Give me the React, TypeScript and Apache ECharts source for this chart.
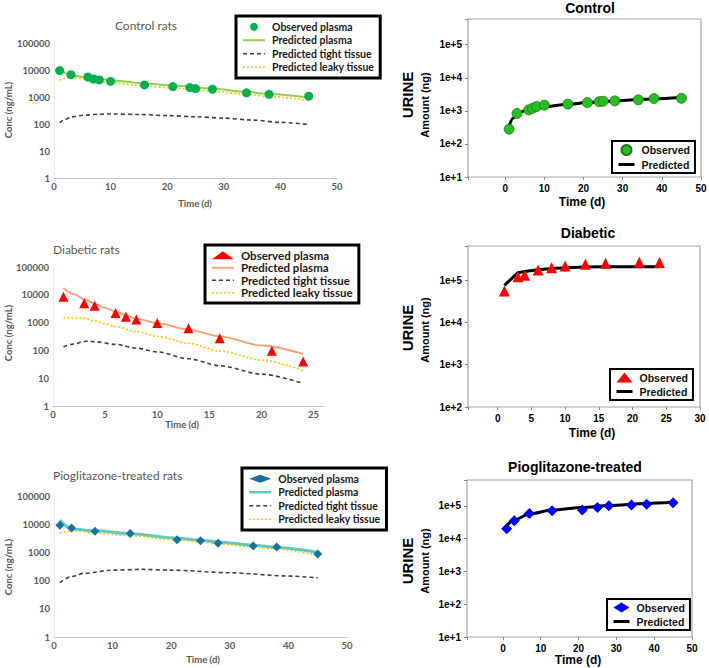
import React, { useEffect, useRef } from "react";
import * as echarts from "echarts";

// ---------- data ----------
// Control rats – plasma (ng/mL)
const ctrlObsT = [1, 3, 6, 7, 8, 10, 16, 21, 24, 25, 28, 34, 38, 45];
const ctrlObsPlasma = [9500, 6700, 5500, 4650, 4300, 3800, 2800, 2430, 2230, 2050, 1940, 1430, 1260, 1070];
const ctrlPredT = [1, 3, 6, 10, 16, 21, 28, 34, 38, 45];
const ctrlPredPlasma = [12000, 6200, 5300, 4200, 3150, 2650, 2050, 1550, 1300, 950];
const ctrlPredLeaky = [4200, 5500, 4500, 3400, 2600, 2150, 1650, 1250, 1050, 740];
const ctrlTightT = [1, 2, 3, 5, 8, 10, 15, 20, 25, 30, 35, 40, 45];
const ctrlPredTight = [110, 150, 180, 210, 230, 235, 225, 205, 185, 165, 140, 115, 95];

// Diabetic rats – plasma
const diabObsT = [1, 3, 4, 6, 7, 8, 10, 13, 16, 21, 24];
const diabObsPlasma = [8500, 5000, 4000, 2200, 1630, 1290, 960, 630, 275, 97, 40];
const diabPredT = [1, 2, 3, 4, 5, 6, 7, 8, 10, 13, 16, 20, 24];
const diabPredPlasma = [17500, 10500, 7000, 4800, 3400, 2500, 1850, 1400, 950, 560, 320, 150, 75];
const diabLeakyT = [1, 2, 3, 4, 5, 6, 8, 10, 13, 16, 20, 24];
const diabPredLeaky = [1500, 1500, 1450, 1150, 900, 720, 480, 320, 180, 95, 45, 19];
const diabTightT = [1, 2, 3, 3.5, 4, 6, 8, 10, 13, 16, 20, 24];
const diabPredTight = [135, 170, 210, 215, 205, 165, 120, 88, 50, 28, 14, 6.5];

// Pioglitazone-treated rats – plasma
const pioObsT = [1, 3, 7, 13, 21, 25, 28, 34, 38, 45];
const pioObsPlasma = [9200, 7400, 5650, 4700, 2800, 2600, 2100, 1700, 1540, 870];
const pioPredT = [1, 3, 7, 13, 21, 25, 28, 34, 38, 45];
const pioPredPlasma = [14000, 6800, 5800, 4600, 3200, 2700, 2350, 1800, 1500, 1000];
const pioPredLeaky = [4700, 5900, 4900, 3900, 2800, 2400, 2000, 1550, 1300, 780];
const pioTightT = [1, 3, 5, 10, 15, 20, 30, 40, 45];
const pioPredTight = [85, 140, 180, 235, 250, 235, 190, 145, 125];

// Urine amounts (ng)
const ctrlUrineObs = [280, 830, 1070, 1200, 1350, 1490, 1600, 1790, 1900, 1950, 2000, 2150, 2360, 2400];
const ctrlUrinePredT = [1, 2, 3, 5, 8, 10, 16, 21, 28, 34, 38, 45];
const ctrlUrinePred = [350, 600, 800, 1000, 1200, 1320, 1580, 1780, 2000, 2200, 2330, 2600];

const diabUrineT = [1, 3, 4, 6, 8, 10, 13, 16, 21, 24];
const diabUrineObs = [55000, 120000, 131000, 173000, 196000, 215000, 236000, 250000, 265000, 260000];
const diabUrinePredT = [1, 3, 4, 6, 8, 10, 13, 16, 20, 24];
const diabUrinePred = [75000, 150000, 160000, 175000, 188000, 196000, 203000, 206000, 208000, 208000];

const pioUrineObs = [20000, 35000, 58000, 70000, 74000, 89000, 100000, 105000, 112000, 124000];
const pioUrinePredT = [1, 3, 7, 13, 21, 28, 38, 45];
const pioUrinePred = [25000, 37000, 56000, 74000, 89000, 102000, 118000, 127000];

// labels
const leftTitles = ["Control rats", "Diabetic rats", "Pioglitazone-treated rats"];
const rightTitles = ["Control", "Diabetic", "Pioglitazone-treated"];
const plasmaLegend = ["Observed plasma", "Predicted plasma", "Predicted tight tissue", "Predicted leaky tissue"];
const urineLegend = ["Observed", "Predicted"];

// ---------- helpers ----------
const FL = 'Lato, "Open Sans", sans-serif';
const FR = '"Liberation Sans", Arial, sans-serif';
const pairs = (xs: number[], ys: number[]) => xs.map((x, i) => [x, ys[i]]);

const grids = [
  { left: 54, top: 43, width: 283, height: 135 },
  { left: 53, top: 267, width: 271, height: 139 },
  { left: 54, top: 496, width: 293, height: 141 },
  { left: 468, top: 19, width: 233, height: 158 },
  { left: 468, top: 246, width: 232, height: 161 },
  { left: 467, top: 480, width: 225, height: 157 },
];

function txt(text: string, x: number, y: number, size: number, weight: string, color: string, family: string, align = "center", rotation = 0) {
  return {
    type: "text",
    x,
    y,
    rotation,
    silent: true,
    style: { text, fill: color, font: `${weight} ${size}px ${family}`, align, verticalAlign: "middle" },
  };
}

const hideSym = { color: "rgba(0,0,0,0)", borderColor: "rgba(0,0,0,0)", borderWidth: 0, opacity: 0 };

export default function App() {
  const ref = useRef<HTMLDivElement>(null);
  useEffect(() => {
    if (!ref.current) return;
    const chart = echarts.init(ref.current, null, { renderer: "svg" });

    const leftX = (i: number, max: number, interval: number) => ({
      type: "value",
      gridIndex: i,
      min: 0,
      max,
      interval,
      splitLine: { show: false },
      axisTick: { show: false },
      axisLine: { show: true, onZero: false, lineStyle: { color: "#c8c8c8", width: 1 } },
      axisLabel: {
        margin: 3,
        color: "#595959",
        fontFamily: FL,
        fontWeight: "bold",
        fontSize: 9.5,
        formatter: (v: number) => (v % interval === 0 ? String(v) : ""),
      },
    });
    const leftY = (i: number) => ({
      type: "log",
      logBase: 10,
      gridIndex: i,
      min: 1,
      max: 100000,
      splitLine: { show: false },
      axisTick: { show: false },
      axisLine: { show: true, onZero: false, lineStyle: { color: "#ececec" } },
      axisLabel: {
        margin: 4,
        color: "#595959",
        fontFamily: FL,
        fontWeight: "bold",
        fontSize: 9.5,
        formatter: (v: number) => String(Math.round(v)),
      },
    });
    const rightX = (i: number, min: number, max: number, step: number, split: number) => ({
      type: "value",
      gridIndex: i,
      min,
      max,
      splitNumber: split,
      minInterval: step,
      maxInterval: step,
      splitLine: { show: false },
      axisLine: { show: false, onZero: false },
      axisTick: { show: true, length: 3, lineStyle: { color: "#888" } },
      axisLabel: {
        margin: 6,
        color: "#000",
        fontFamily: FR,
        fontWeight: "bold",
        fontSize: 10,
        formatter: (v: number) => (v < 0 || v % step !== 0 ? "" : String(Math.abs(v))),
      },
    });
    const rightY = (i: number, min: number, max: number) => ({
      type: "log",
      logBase: 10,
      gridIndex: i,
      min,
      max,
      splitLine: { show: false },
      axisLine: { show: false, onZero: false },
      axisTick: { show: true, length: 3, lineStyle: { color: "#888" } },
      axisLabel: {
        margin: 6,
        color: "#000",
        fontFamily: FR,
        fontWeight: "bold",
        fontSize: 10,
        formatter: (v: number) => {
          const l = Math.log10(v);
          return Math.abs(l - Math.round(l)) < 0.01 ? `1e+${Math.round(l)}` : "";
        },
      },
    });

    const line = (name: string, idx: number, data: number[][], color: string, width: number, type: any, z = 2, smooth: any = 0.3) => ({
      name,
      type: "line",
      xAxisIndex: idx,
      yAxisIndex: idx,
      data,
      symbol: "none",
      smooth,
      smoothMonotone: "x",
      z,
      lineStyle: { color, width, type },
      itemStyle: { color },
    });
    const scat = (name: string, idx: number, data: number[][], symbol: string, size: number, color: string, border?: string) => ({
      name,
      type: "scatter",
      xAxisIndex: idx,
      yAxisIndex: idx,
      data,
      symbol,
      symbolSize: size,
      z: 5,
      itemStyle: { color, borderColor: border || color, borderWidth: border ? 0.8 : 0, opacity: 1 },
    });

    const names: Record<string, string> = {};
    const leftLegend = (p: string, left: number, top: number, fontSize: number, gap: number, pad: number[], widths: number[]) => {
      const ids = ["obs", "pred", "tight", "leaky"].map((k) => `${p}_${k}`);
      ids.forEach((id, i) => (names[id] = plasmaLegend[i]));
      return {
        orient: "vertical",
        left,
        top,
        itemWidth: 22,
        itemHeight: 8,
        itemGap: gap,
        padding: pad,
        borderColor: "#000",
        borderWidth: 3,
        borderRadius: 0,
        backgroundColor: "#fff",
        selectedMode: false,
        textStyle: { fontFamily: FL, fontWeight: "bold", fontSize, lineHeight: fontSize + 1, color: "#1a1a1a", padding: [0, 0, 0, 2] },
        formatter: (n: string) => names[n] || n,
        data: ids.map((id, i) => (i === 0 ? { name: id } : { name: id, itemStyle: hideSym, lineStyle: { width: widths[i - 1] } })),
      };
    };
    const rightLegend = (p: string, left: number, top: number) => {
      const ids = [`${p}_uobs`, `${p}_upred`];
      ids.forEach((id, i) => (names[id] = urineLegend[i]));
      return {
        orient: "vertical",
        left,
        top,
        itemWidth: 16,
        itemHeight: 10,
        itemGap: 3,
        padding: [3, 5, 3, 5],
        borderColor: "#000",
        borderWidth: 2,
        borderRadius: 0,
        backgroundColor: "#fff",
        selectedMode: false,
        textStyle: { fontFamily: FR, fontWeight: "bold", fontSize: 10.5, color: "#111", padding: [0, 0, 0, 2] },
        formatter: (n: string) => names[n] || n,
        data: [{ name: ids[0] }, { name: ids[1], itemStyle: hideSym, lineStyle: { width: 3 } }],
      };
    };

    const YEL = "#ffc000";
    const DK = "#404040";

    const option: any = {
      animation: false,
      backgroundColor: "#fff",
      grid: grids.map((g, i) => ({
        ...g,
        outerBoundsMode: "none",
        containLabel: false,
        show: i >= 3,
        borderColor: "#a6a6a6",
        borderWidth: 1.2,
        backgroundColor: "transparent",
      })),
      xAxis: [
        leftX(0, 50, 10),
        leftX(1, 26, 5),
        leftX(2, 50, 10),
        rightX(3, -9.5, 50, 10, 6),
        rightX(4, -4.4, 30, 5, 7),
        rightX(5, -9.5, 50, 10, 6),
      ],
      yAxis: [leftY(0), leftY(1), leftY(2), rightY(3, 10, 600000), rightY(4, 100, 640000), rightY(5, 10, 610000)],
      legend: [
        leftLegend("c", 236, 16, 10.5, 2, [5, 6, 5, 6], [2, 1.6, 1.6]),
        leftLegend("d", 205, 245, 11.5, 0, [4, 6, 4, 6], [1.8, 1.6, 1.6]),
        leftLegend("p", 242, 468, 10.5, 2, [5, 6, 5, 6], [2.5, 1.6, 1.6]),
        rightLegend("c", 612, 141),
        rightLegend("d", 610, 369),
        rightLegend("p", 607, 599),
      ],
      series: [
        // control plasma
        line("c_pred", 0, pairs(ctrlPredT, ctrlPredPlasma), "#92d050", 2, "solid"),
        line("c_tight", 0, pairs(ctrlTightT, ctrlPredTight), DK, 1.6, [4, 3]),
        line("c_leaky", 0, pairs(ctrlPredT, ctrlPredLeaky), YEL, 1.6, [2, 2]),
        scat("c_obs", 0, pairs(ctrlObsT, ctrlObsPlasma), "circle", 9, "#00b050"),
        // diabetic plasma
        line("d_pred", 1, pairs(diabPredT, diabPredPlasma), "#f4a070", 1.8, "solid"),
        line("d_tight", 1, pairs(diabTightT, diabPredTight), DK, 1.6, [4, 3]),
        line("d_leaky", 1, pairs(diabLeakyT, diabPredLeaky), YEL, 1.6, [2, 2]),
        scat("d_obs", 1, pairs(diabObsT, diabObsPlasma), "triangle", 10, "#ff0000"),
        // pio plasma
        line("p_pred", 2, pairs(pioPredT, pioPredPlasma), "#5cc8cc", 3, "solid"),
        line("p_tight", 2, pairs(pioTightT, pioPredTight), DK, 1.6, [4, 3]),
        line("p_leaky", 2, pairs(pioPredT, pioPredLeaky), YEL, 1.6, [2, 2]),
        scat("p_obs", 2, pairs(pioObsT, pioObsPlasma), "diamond", 9, "#17729e"),
        // urine
        line("c_upred", 3, pairs(ctrlUrinePredT, ctrlUrinePred), "#000", 3, "solid"),
        scat("c_uobs", 3, pairs(ctrlObsT, ctrlUrineObs), "circle", 10, "#22c022", "#2f6f1f"),
        line("d_upred", 4, pairs(diabUrinePredT, diabUrinePred), "#000", 3, "solid", 2, false),
        scat("d_uobs", 4, pairs(diabUrineT, diabUrineObs), "triangle", 11, "#ff0000"),
        line("p_upred", 5, pairs(pioUrinePredT, pioUrinePred), "#000", 3, "solid"),
        scat("p_uobs", 5, pairs(pioObsT, pioUrineObs), "diamond", 11, "#0000ff"),
      ],
      graphic: [
        txt(leftTitles[0], 146, 25, 12, "normal", "#595959", FL),
        txt(leftTitles[1], 53, 249, 12, "normal", "#595959", FL, "left"),
        txt(leftTitles[2], 53, 475, 12, "normal", "#595959", FL, "left"),
        txt("Time (d)", 195, 203, 9.5, "bold", "#595959", FL),
        txt("Time (d)", 182, 424, 9.5, "bold", "#595959", FL),
        txt("Time (d)", 203, 659, 9.5, "bold", "#595959", FL),
        txt("Conc (ng/mL)", 8, 110, 9.5, "bold", "#595959", FL, "center", Math.PI / 2),
        txt("Conc (ng/mL)", 8, 333, 9.5, "bold", "#595959", FL, "center", Math.PI / 2),
        txt("Conc (ng/mL)", 8, 567, 9.5, "bold", "#595959", FL, "center", Math.PI / 2),
        txt(rightTitles[0], 590, 8, 14, "bold", "#000", FR),
        txt(rightTitles[1], 588, 233, 14, "bold", "#000", FR),
        txt(rightTitles[2], 575, 467, 14, "bold", "#000", FR),
        txt("Time (d)", 582, 202, 12, "bold", "#000", FR),
        txt("Time (d)", 592, 433, 12, "bold", "#000", FR),
        txt("Time (d)", 578, 660, 12, "bold", "#000", FR),
        txt("URINE", 407, 95, 15, "bold", "#000", FR, "center", Math.PI / 2),
        txt("Amount (ng)", 425, 105, 11, "bold", "#000", FR, "center", Math.PI / 2),
        txt("URINE", 407, 328, 15, "bold", "#000", FR, "center", Math.PI / 2),
        txt("Amount (ng)", 425, 330, 11, "bold", "#000", FR, "center", Math.PI / 2),
        txt("URINE", 407, 561, 15, "bold", "#000", FR, "center", Math.PI / 2),
        txt("Amount (ng)", 425, 561, 11, "bold", "#000", FR, "center", Math.PI / 2),
      ],
    };
    chart.setOption(option);
    return () => chart.dispose();
  }, []);
  return <div ref={ref} style={{ position: "fixed", left: 0, top: 0, width: 709, height: 668, background: "#fff" }} />;
}
